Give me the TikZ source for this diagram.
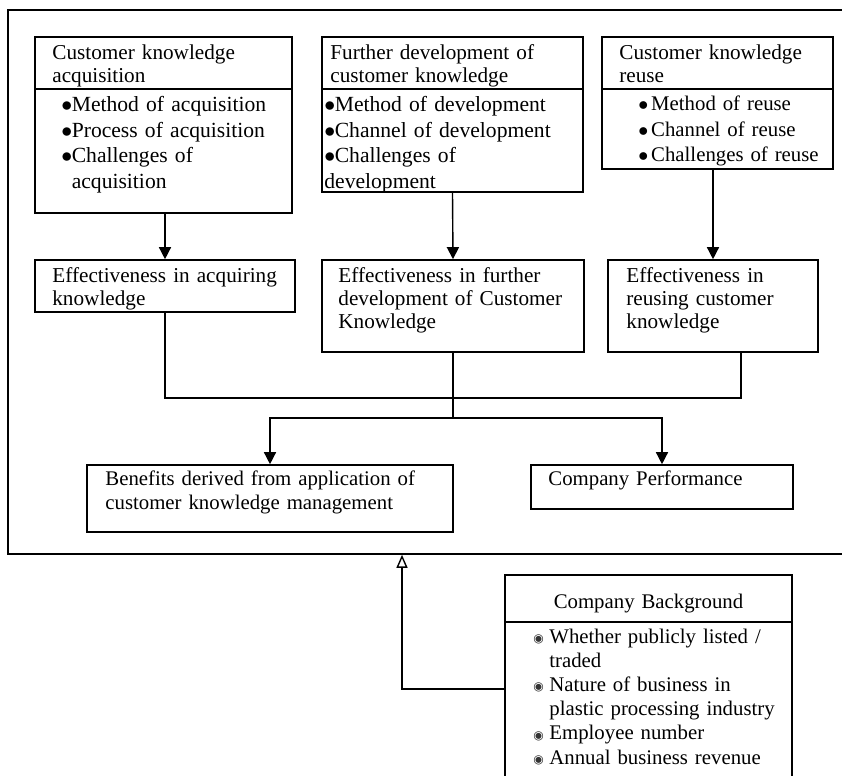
\documentclass[tikz,border=0pt]{standalone}
\usepackage{fontspec}
\setmainfont{Liberation Serif}
\newfontfamily\symfont{DejaVu Sans}
\usetikzlibrary{positioning,fit,arrows.meta}

\tikzset{
  frame/.style={draw, line width=0.8pt, inner sep=0pt},
  txt/.style={anchor=base west, inner sep=0pt, align=left, text width=200pt},
  hd/.style={txt, font=\fontsize{10.6}{11.5}\selectfont},
  bl/.style={txt, font=\fontsize{10.8}{12.75}\selectfont},
  ef/.style={txt, font=\fontsize{10.6}{11.5}\selectfont},
  lo/.style={txt, font=\fontsize{10.4}{12.1}\selectfont},
  conn/.style={line width=0.7pt},
  arr/.style={conn, -{Triangle[length=6pt,width=6pt]}},
  hollow/.style={conn, -{Triangle[open,length=6.5pt,width=5.5pt]}}
}
\newcommand{\bul}[1][5.2pt]{\makebox[#1][l]{$\bullet$}}
\newcommand{\cbul}{\makebox[8pt][l]{\raisebox{0.3pt}{\symfont\fontsize{6}{6}\selectfont\textcolor{black!80}{◉}}}}

\begin{document}
\begin{tikzpicture}[x=0.5pt, y=-0.5pt]
\useasboundingbox (0,0) rectangle (842,776);

% --- FRAMES: name/x0/y0/x1/y1 (pixel units) ---
\foreach \nm/\xa/\ya/\xb/\yb in {%
  outer/8/10/846/554,%
  acqH/35/37/292/89, acqB/35/89/292/213,%
  devH/322/37/583/89, devB/322/89/583/192,%
  reuH/602/37/833/89, reuB/602/89/833/169,%
  effA/35/260/295/312, effB/322/260/584/352, effC/608/260/818/352,%
  ben/87/465/453/532, perf/531/465/793/509,%
  bgH/505/575/792/622, bgB/505/622/792/780%
} {
  \node[frame, fit={(\xa,\ya) (\xb,\yb)}] (\nm) {};
}

% --- TOP BOXES: headers ---
\node[hd] (acqHt) at (52,60) {Customer knowledge\\acquisition};
\node[hd] (devHt) at (330,60) {Further development of\\customer knowledge};
\node[hd] (reuHt) at (619,60) {Customer knowledge\\reuse};

% --- TOP BOXES: bullet lists ---
\node[bl] (acqBt) at (61,112)
  {\bul Method of acquisition\\\bul Process of acquisition\\
   \bul Challenges of\\\hspace*{5.2pt}acquisition};
\node[bl] (devBt) at (324,112)
  {\bul Method of development\\\bul Channel of development\\
   \bul Challenges of\\development};
\node[bl, font=\fontsize{10.4}{12.6}\selectfont] (reuBt) at (638,111)
  {\bul[6.4pt]Method of reuse\\\bul[6.4pt]Channel of reuse\\
   \bul[6.4pt]Challenges of reuse};

% --- EFFECTIVENESS ---
\node[ef] (effAt) at (52,282) {Effectiveness in acquiring\\knowledge};
\node[ef] (effBt) at (338,282)
  {Effectiveness in further\\development of Customer\\Knowledge};
\node[ef] (effCt) at (626,282) {Effectiveness in\\reusing customer\\knowledge};

% --- OUTCOMES ---
\node[lo] (bent) at (105,485)
  {Benefits derived from application of\\customer knowledge management};
\node[lo] (perft) at (548,485) {Company Performance};

% --- COMPANY BACKGROUND ---
\node[lo, anchor=base, align=center, text width=140pt] (bgHt) at (648.5,608)
  {Company Background};
\node[lo] (bgBt) at (533,643)
  {\cbul Whether publicly listed /\\\hspace*{8pt}traded\\
   \cbul Nature of business in\\\hspace*{8pt}plastic processing industry\\
   \cbul Employee number\\\cbul Annual business revenue};

% --- ARROWS ---
\draw[arr] (acqB.south -| effA.north) -- (effA.north);
\draw[arr] (devB.south) -- (effB.north);
\draw[arr] (reuB.south -| effC.north) -- (effC.north);

\coordinate (split) at (453,418);
\draw[conn] (effA.south) -- ++(0,85) -| ([xshift=14pt]effC.south);
\draw[conn] (effB.south) -- (split);
\draw[arr] (split) -| (ben.north);
\draw[arr] (split) -| (perf.north);

\coordinate (bgTurn) at (402,689);
\draw[hollow] (bgB.west |- bgTurn) -- (bgTurn) -- (bgTurn |- outer.south);

\end{tikzpicture}
\end{document}
